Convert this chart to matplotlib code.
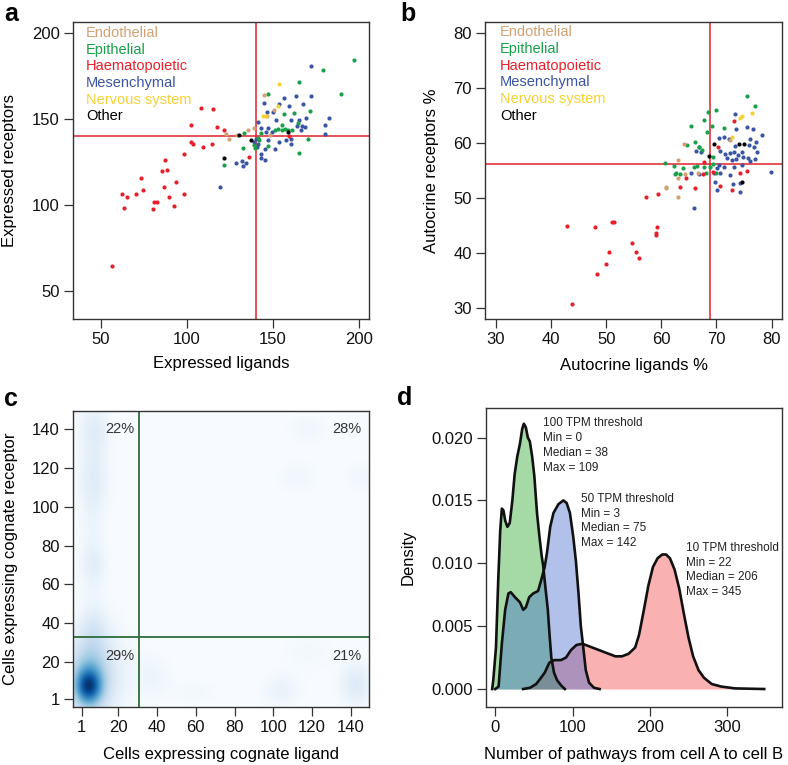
import numpy as np
import matplotlib
matplotlib.use('Agg')
import matplotlib.pyplot as plt
from matplotlib.colors import LinearSegmentedColormap

plt.rcParams['font.family'] = ['Liberation Sans', 'DejaVu Sans']

# ---- panel a: expressed ligands / receptors ----
haem_a_x = [56.4, 62.4, 63.4, 65.3, 70.3, 73.3, 74.4, 80.4, 81.0, 82.4, 85.5, 86.4, 87.4, 88.4, 89.5,
            92.2, 93.4, 98.3, 98.4, 102.3, 102.5, 103.5, 108.3, 109.3, 114.3, 115.3, 117.4, 121.3, 136.2, 159.0]
haem_a_y = [64.5, 106.6, 98.4, 104.7, 106.6, 115.7, 108.5, 97.7, 101.7, 101.7, 119.6, 110.5, 126.4, 120.5, 104.7,
            99.4, 113.4, 129.5, 106.4, 146.3, 136.4, 135.5, 156.6, 133.5, 135.3, 155.6, 145.3, 143.4, 127.7, 140.0]
endo_a_x = [122.5, 124.4, 128.9, 135.7, 139.2, 144.6, 146.3, 148.1, 150.8]
endo_a_y = [141.5, 138.6, 140.5, 143.4, 144.6, 163.8, 151.5, 140.5, 155.4]
nerv_a_x = [153.3, 144.4, 152.7, 146.0]
nerv_a_y = [170.5, 151.5, 157.4, 151.8]
other_a_x = [121.3, 130.4, 137.4, 158.5]
other_a_y = [127.5, 140.5, 137.6, 142.4]
epi_a_x = [179.3, 189.3, 165.3, 147.3, 162.4, 171.5, 156.4, 164.5, 155.0, 157.0, 151.2, 152.7, 155.4, 158.5,
           161.2, 143.0, 141.5, 141.9, 139.0, 133.3, 132.4, 147.3, 121.5, 165.3, 170.4, 139.5, 197.3]
epi_a_y = [178.3, 164.7, 171.3, 164.7, 153.6, 154.5, 152.7, 147.7, 146.3, 144.4, 143.4, 144.4, 143.4, 143.4,
           143.4, 141.9, 139.1, 137.6, 134.7, 141.9, 133.3, 134.3, 123.4, 130.4, 138.6, 133.3, 184.5]
mes_a_x = [172.3, 172.1, 182.6, 180.2, 180.2, 167.3, 163.4, 156.4, 144.6, 153.7, 159.3, 149.8, 146.7, 151.8,
           160.5, 165.1, 169.4, 166.7, 166.3, 168.6, 164.0, 141.5, 146.9, 143.0, 145.7, 149.2, 160.5, 157.6,
           160.5, 153.5, 151.2, 147.3, 145.4, 143.0, 145.4, 143.0, 140.7, 140.0, 139.2, 141.5, 128.3, 132.2,
           132.4, 134.5, 119.2]
mes_a_y = [180.6, 163.4, 150.4, 146.3, 141.5, 158.5, 163.4, 162.4, 159.3, 158.9, 157.5, 153.9, 154.1, 149.4,
           149.4, 149.2, 150.6, 145.7, 143.4, 145.3, 145.7, 148.4, 145.0, 145.0, 142.4, 142.4, 138.6, 138.0,
           135.7, 136.6, 132.5, 137.6, 132.5, 129.4, 126.0, 127.3, 133.7, 138.6, 136.6, 135.3, 124.4, 125.3,
           122.5, 124.4, 110.7]

# ---- panel b: autocrine percentages ----
haem_b_x = [42.8, 43.7, 48.0, 48.3, 49.9, 50.5, 51.0, 51.4, 54.7, 55.4, 56.0, 57.2, 59.4, 59.2, 59.1, 59.1,
            73.1, 70.3, 67.7, 64.5, 63.4, 66.1, 67.5, 70.7, 72.8, 74.2, 75.6, 69.3]
haem_b_y = [44.9, 30.7, 44.8, 36.2, 38.0, 40.2, 45.6, 45.7, 41.9, 40.1, 39.1, 50.2, 50.8, 44.7, 43.7, 43.2,
            64.0, 59.3, 56.6, 53.7, 52.0, 51.8, 54.3, 52.2, 51.4, 54.6, 54.9, 54.8]
endo_b_x = [60.8, 63.1, 64.1, 63.1, 60.9, 63.1, 64.3, 66.7, 72.5]
endo_b_y = [51.9, 50.2, 59.9, 56.9, 52.0, 53.7, 54.3, 54.6, 60.5]
nerv_b_x = [74.2, 74.6, 76.4, 72.8]
nerv_b_y = [64.6, 64.9, 65.4, 61.1]
other_b_x = [69.5, 74.1, 75.0, 68.7, 74.7]
other_b_y = [59.9, 59.9, 59.8, 57.7, 53.0]
epi_b_x = [75.6, 77.0, 69.9, 68.5, 67.8, 65.4, 69.2, 68.3, 71.4, 66.1, 66.8, 67.4, 60.7, 62.3, 64.0, 66.0,
           66.4, 67.8, 62.7, 62.5, 63.4, 68.1, 68.9, 69.3, 69.9, 69.3, 64.6, 66.9]
epi_b_y = [68.5, 66.7, 66.0, 65.7, 64.1, 63.1, 63.1, 62.0, 62.8, 60.2, 59.2, 58.7, 56.3, 55.8, 55.4, 55.6,
           55.8, 55.7, 54.6, 54.3, 54.3, 54.6, 55.7, 56.2, 54.6, 57.5, 59.7, 59.3]
mes_b_x = [73.3, 73.6, 75.5, 76.7, 78.2, 71.3, 70.4, 72.2, 76.1, 77.2, 73.3, 76.0, 76.8, 77.3, 66.3, 67.2,
           70.7, 71.6, 72.5, 73.1, 74.0, 74.9, 75.8, 77.0, 71.9, 72.8, 73.6, 74.6, 70.5, 71.3, 73.2, 74.7,
           76.1, 70.1, 69.5, 70.7, 72.5, 65.4, 66.9, 69.8, 74.3, 73.0, 70.1, 74.2, 79.9, 66.0]
mes_b_y = [65.2, 62.5, 62.9, 62.6, 61.4, 61.1, 60.9, 60.8, 60.7, 60.2, 59.4, 59.6, 59.2, 58.4, 58.5, 58.3,
           58.6, 58.0, 58.1, 58.4, 57.8, 57.5, 57.2, 57.1, 57.2, 56.9, 57.1, 58.4, 56.0, 55.6, 55.7, 56.0,
           56.7, 55.4, 54.5, 54.5, 54.2, 54.6, 54.3, 52.9, 52.8, 52.5, 51.4, 51.1, 54.8, 48.2]

groups = ['Endothelial', 'Epithelial', 'Haematopoietic', 'Mesenchymal', 'Nervous system', 'Other']
group_colors = ['#d3a171', '#18a04a', '#e5202a', '#3a55a4', '#f5d232', '#000000']

# ---- panel c: smoothed density of ligand/receptor cell counts (blob centres) ----
blob_x = [4.3, 5.0, 8, 6.5, 7, 7, 7, 8, 143, 104, 60, 38, 118, 113, 145, 118]
blob_y = [7, 11, 14, 95, 36, 70, 115, 140, 8, 5, 4, 12, 140, 115, 115, 25]
blob_sx = [4.5, 7, 12, 5, 5, 5, 6, 6, 6, 7, 9, 7, 8, 8, 6, 10]
blob_sy = [6, 12, 18, 40, 8, 7, 12, 8, 8, 6, 5, 8, 6, 6, 6, 8]
blob_w = [0.5, 0.3, 0.12, 0.05, 0.08, 0.06, 0.07, 0.08, 0.12, 0.07, 0.03, 0.05, 0.04, 0.04, 0.04, 0.03]
quadrant_pct = ['22%', '28%', '29%', '21%']

# ---- panel d: density of pathways per threshold ----
g_x = [-4, -2.6, 0.9, 3.8, 6.4, 8.5, 10.6, 12.8, 15.7, 18.7, 22.1, 25.1, 28.5, 31.9, 34.9, 37.0, 39.6,
       42.1, 44.7, 47.7, 50.6, 54.0, 57.0, 60.0, 62.0, 65.0, 68.0, 70.0, 72.5, 76.0, 80.0, 85.0, 90.0]
g_y = [0, 0.0007, 0.0033, 0.0086, 0.0126, 0.01435, 0.0142, 0.0134, 0.0129, 0.0132, 0.0150, 0.0171, 0.0185,
       0.0195, 0.0207, 0.0211, 0.0208, 0.0200, 0.0197, 0.0185, 0.0169, 0.0140, 0.0122, 0.0106, 0.0098,
       0.0080, 0.0063, 0.0045, 0.0025, 0.0013, 0.0007, 0.0003, 0.0]
b_x = [0, 4.3, 8.5, 12.8, 17.0, 20.0, 25.5, 31.9, 36.2, 39.6, 43.9, 49.0, 55.4, 59.6, 63.9, 66.8, 71.1,
       75.3, 81.7, 88.1, 92.3, 96.6, 100.9, 104.3, 107.7, 110.7, 113.7, 117.1, 121.4, 127.7, 135]
b_y = [0, 0.0002, 0.0036, 0.0063, 0.0076, 0.0077, 0.0073, 0.0069, 0.0063, 0.0065, 0.0073, 0.0076, 0.0078,
       0.0087, 0.0097, 0.0108, 0.0129, 0.0140, 0.0147, 0.0150, 0.0148, 0.0140, 0.0121, 0.0102, 0.0076,
       0.0050, 0.0034, 0.0015, 0.0005, 0.0001, 0]
r_x = [36, 45, 53, 58, 64, 70, 76.6, 85, 91.5, 98, 105, 112.8, 121.3, 129.8, 138.3, 146.8, 155.4, 163.9,
       172.4, 181, 186, 192, 198, 204, 210, 216, 221, 226, 232, 238, 244, 250, 256, 263, 270, 280, 292, 310, 348]
r_y = [0, 0.0001, 0.0004, 0.0008, 0.0013, 0.0021, 0.0023, 0.0023, 0.0025, 0.0031, 0.0035, 0.0036, 0.0034,
       0.0032, 0.0030, 0.0028, 0.0026, 0.0026, 0.0028, 0.0033, 0.0043, 0.0062, 0.0082, 0.0097, 0.0104,
       0.0107, 0.0107, 0.0104, 0.0095, 0.0080, 0.0060, 0.0041, 0.0026, 0.0015, 0.0009, 0.0004, 0.0002,
       0.00005, 0]
tpm_labels = ['100 TPM threshold\nMin = 0\nMedian = 38\nMax = 109',
              '50 TPM threshold\nMin = 3\nMedian = 75\nMax = 142',
              '10 TPM threshold\nMin = 22\nMedian = 206\nMax = 345']

W, H = 788, 765
fig = plt.figure(figsize=(W / 100, H / 100), dpi=100)


def box(l, t, r, b):
    return [l / W, 1 - b / H, (r - l) / W, (b - t) / H]


def style(ax):
    for s in ax.spines.values():
        s.set_color('#333333')
        s.set_linewidth(1.0)
    ax.tick_params(direction='out', length=6.5, width=0.9, color='#333333',
                   labelsize=12, pad=3, labelcolor='#111111')


ax_a = fig.add_axes(box(73, 22, 369, 319))
ax_b = fig.add_axes(box(485, 22, 782, 319))
ax_c = fig.add_axes(box(73, 411, 369, 707))
ax_d = fig.add_axes(box(486, 408, 782, 707))

# scatter panels
a_sets = [(endo_a_x, endo_a_y), (epi_a_x, epi_a_y), (haem_a_x, haem_a_y),
          (mes_a_x, mes_a_y), (nerv_a_x, nerv_a_y), (other_a_x, other_a_y)]
b_sets = [(endo_b_x, endo_b_y), (epi_b_x, epi_b_y), (haem_b_x, haem_b_y),
          (mes_b_x, mes_b_y), (nerv_b_x, nerv_b_y), (other_b_x, other_b_y)]
order = [3, 1, 0, 4, 2, 5]
for ax, sets in [(ax_a, a_sets), (ax_b, b_sets)]:
    for i in order:
        ax.scatter(sets[i][0], sets[i][1], s=9, color=group_colors[i], linewidths=0, zorder=3)

ax_a.set_xlim(33.7, 205.8)
ax_a.set_ylim(33.7, 206.4)
ax_a.set_xticks([50, 100, 150, 200])
ax_a.set_yticks([50, 100, 150, 200])
ax_a.axvline(140, color='#e0202a', lw=1.1, zorder=2)
ax_a.axhline(140.3, color='#e0202a', lw=1.1, zorder=2)
ax_a.set_xlabel('Expressed ligands', fontsize=12)
ax_a.set_ylabel('Expressed receptors', fontsize=12)
for k, (g, c) in enumerate(zip(groups, group_colors)):
    ax_a.text(41.3, 200 - k * 9.7, g, color=c, fontsize=10.5, va='center', ha='left')

ax_b.set_xlim(28, 81.9)
ax_b.set_ylim(28, 82)
ax_b.set_xticks([30, 40, 50, 60, 70, 80])
ax_b.set_yticks([30, 40, 50, 60, 70, 80])
ax_b.axvline(68.8, color='#e0202a', lw=1.1, zorder=2)
ax_b.axhline(56.2, color='#e0202a', lw=1.1, zorder=2)
ax_b.set_xlabel('Autocrine ligands %', fontsize=12)
ax_b.set_ylabel('Autocrine receptors %', fontsize=12)
for k, (g, c) in enumerate(zip(groups, group_colors)):
    ax_b.text(30.7, 80.1 - k * 3.03, g, color=c, fontsize=10.5, va='center', ha='left')

# smoothed density panel
blues = ['#FFFFFF', '#F7FBFF', '#DEEBF7', '#C6DBEF', '#9ECAE1', '#6BAED6',
         '#4292C6', '#2171B5', '#08519C', '#08306B']
cmap = LinearSegmentedColormap.from_list('smooth', blues)
gx, gy = np.meshgrid(np.linspace(-3.4, 149.4, 300), np.linspace(-3.3, 149.4, 300))
Z = np.full(gx.shape, 0.1)
for x0, y0, sx, sy, w in zip(blob_x, blob_y, blob_sx, blob_sy, blob_w):
    Z += w * np.exp(-((gx - x0) ** 2 / (2 * sx ** 2) + (gy - y0) ** 2 / (2 * sy ** 2)))
ax_c.imshow(np.clip(Z, 0, 1), origin='lower', extent=(-3.4, 149.4, -3.3, 149.4),
            cmap=cmap, vmin=0, vmax=1, aspect='auto', interpolation='bilinear')
ax_c.set_xlim(-3.4, 149.4)
ax_c.set_ylim(-3.3, 149.4)
ax_c.axvline(30.7, color='#2e6b3a', lw=1.3)
ax_c.axhline(32.6, color='#2e6b3a', lw=1.3)
ticks_c = [1, 20, 40, 60, 80, 100, 120, 140]
ax_c.set_xticks(ticks_c)
ax_c.set_yticks(ticks_c)
ax_c.set_xlabel('Cells expressing cognate ligand', fontsize=12)
ax_c.set_ylabel('Cells expressing cognate receptor', fontsize=12)
for (tx, ty), lab in zip([(28.5, 140), (145.5, 140), (28.5, 23.2), (145.5, 23.2)], quadrant_pct):
    ax_c.text(tx, ty, lab, ha='right', va='center', fontsize=10.5, color='#333333')

# density curves panel
curves = [(r_x, r_y, (0.94, 0.24, 0.24, 0.4)),
          (g_x, g_y, (0.12, 0.63, 0.12, 0.4)),
          (b_x, b_y, (0.24, 0.40, 0.80, 0.4))]
for cx, cy, fc in curves:
    ax_d.fill_between(cx, cy, 0, color=fc, linewidth=0)
    ax_d.plot(cx, cy, color='#111111', lw=1.9, solid_joinstyle='round')
ax_d.set_xlim(-12, 371)
ax_d.set_ylim(-0.00143, 0.02235)
ax_d.set_xticks([0, 100, 200, 300])
ax_d.set_yticks([0, 0.005, 0.01, 0.015, 0.02])
ax_d.set_yticklabels(['0.000', '0.005', '0.010', '0.015', '0.020'])
ax_d.set_xlabel('Number of pathways from cell A to cell B', fontsize=12)
ax_d.set_ylabel('Density', fontsize=12)
for (tx, ty), lab in zip([(62.4, 0.0216), (110.7, 0.0156), (246.8, 0.0117)], tpm_labels):
    ax_d.text(tx, ty, lab, ha='left', va='top', fontsize=8.5, color='#222222', linespacing=1.3)

for ax in (ax_a, ax_b, ax_c, ax_d):
    style(ax)

ax_a.xaxis.set_label_coords(0.5, -0.125)
ax_a.yaxis.set_label_coords(-0.19, 0.5)
ax_b.xaxis.set_label_coords(0.5, -0.13)
ax_b.yaxis.set_label_coords(-0.155, 0.5)
ax_c.xaxis.set_label_coords(0.5, -0.135)
ax_c.yaxis.set_label_coords(-0.186, 0.5)
ax_d.xaxis.set_label_coords(0.5, -0.135)
ax_d.yaxis.set_label_coords(-0.238, 0.5)

for lab, px, py in [('a', 4, 14), ('b', 400, 14), ('c', 4, 399), ('d', 397, 398)]:
    fig.text(px / W, 1 - py / H, lab, fontsize=18, fontweight='bold', va='center', ha='left')

fig.savefig('out.png', dpi=100)
